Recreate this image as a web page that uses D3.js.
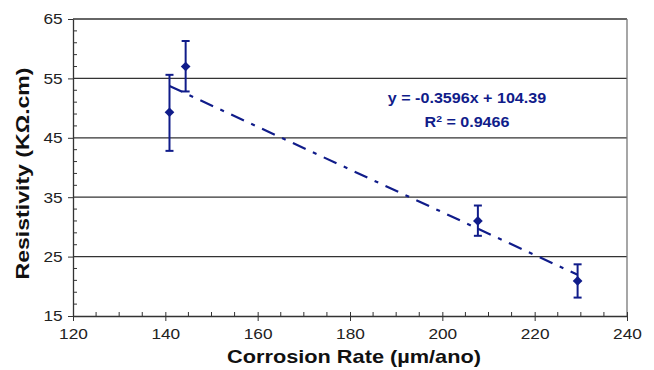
<!DOCTYPE html>
<html>
<head>
<meta charset="utf-8">
<script src="https://cdn.jsdelivr.net/npm/d3@7"></script>
<style>
  body { margin: 0; background: #fff; }
  text { font-family: "Liberation Sans", Arial, sans-serif; }
</style>
</head>
<body>
<div id="chart"></div>
<script>
// data
let rates = [140.9, 144.4, 207.7, 229.3];
let resist = [49.3, 57.0, 31.0, 20.9];
let errUp = [6.3, 4.3, 2.6, 2.8];
let errDown = [6.5, 4.2, 2.5, 2.8];
let xTicks = [120, 140, 160, 180, 200, 220, 240];
let yTicks = [15, 25, 35, 45, 55, 65];
let slope = -0.3596, intercept = 104.39;
let eqLines = ["y = -0.3596x + 104.39", "R"];

let margin = {top: 19, right: 27, bottom: 54, left: 73},
    width = 654 - margin.left - margin.right,
    height = 370 - margin.top - margin.bottom;

let navy = "#101c8a";
let stretch = "scale(1.15,1)"; // the source picture is a bit wider than tall

let svg = d3.select("#chart")
    .append("svg")
    .attr("width", 654)
    .attr("height", 370)
    .append("g")
    .attr("transform", "translate(" + margin.left + "," + margin.top + ")");

let x = d3.scaleLinear().domain([120, 240]).range([0, width]);
let y = d3.scaleLinear().domain([15, 65]).range([height, 0]);

// horizontal grid lines
svg.selectAll(".grid")
    .data(yTicks.slice(1))
    .enter()
    .append("line")
    .attr("x1", 0).attr("x2", width)
    .attr("y1", d => y(d)).attr("y2", d => y(d))
    .attr("stroke", "#333")
    .attr("stroke-width", 1.3);

// right border
svg.append("line")
    .attr("x1", width).attr("x2", width)
    .attr("y1", 0).attr("y2", height)
    .attr("stroke", "#777").attr("stroke-width", 1.3);

// minor ticks (inside)
let xMinor = d3.range(125, 240, 5).filter(d => d % 20 != 0);
svg.selectAll(".xminor")
    .data(xMinor)
    .enter()
    .append("line")
    .attr("x1", d => x(d)).attr("x2", d => x(d))
    .attr("y1", height).attr("y2", height - 4)
    .attr("stroke", "#333");

let yMinor = d3.range(17, 65, 2).filter(d => (d - 15) % 10 != 0);
svg.selectAll(".yminor")
    .data(yMinor)
    .enter()
    .append("line")
    .attr("x1", 0).attr("x2", 4)
    .attr("y1", d => y(d)).attr("y2", d => y(d))
    .attr("stroke", "#333");

// axes
let xAxis = svg.append("g")
    .attr("transform", "translate(0," + height + ")")
    .call(d3.axisBottom(x).tickValues(xTicks).tickSize(5).tickSizeOuter(0).tickPadding(7));
xAxis.selectAll(".tick line").attr("y1", -4);

let yAxis = svg.append("g")
    .call(d3.axisLeft(y).tickValues(yTicks).tickSize(5).tickSizeOuter(0).tickPadding(4));

svg.selectAll(".domain").attr("stroke", "#333").attr("stroke-width", 1.3);
svg.selectAll(".tick line").attr("stroke", "#333");
svg.selectAll(".tick text")
    .attr("font-size", "15px")
    .attr("fill", "#222")
    .attr("transform", stretch)
    .style("font-family", "'Liberation Sans', Arial, sans-serif");

// trend line
let x0 = d3.min(rates), x1 = d3.max(rates);
svg.append("line")
    .attr("x1", x(x0)).attr("y1", y(slope * x0 + intercept))
    .attr("x2", x(x1)).attr("y2", y(slope * x1 + intercept))
    .attr("stroke", navy)
    .attr("stroke-width", 2.2)
    .attr("stroke-dasharray", "14,8,4,8");

// error bars
let pts = rates.map((r, i) => ({x: r, y: resist[i], hi: resist[i] + errUp[i], lo: resist[i] - errDown[i]}));

svg.selectAll(".err")
    .data(pts)
    .enter()
    .append("line")
    .attr("x1", d => x(d.x)).attr("x2", d => x(d.x))
    .attr("y1", d => y(d.hi)).attr("y2", d => y(d.lo))
    .attr("stroke", navy).attr("stroke-width", 2);

["hi", "lo"].forEach(function(k) {
    svg.selectAll(".cap" + k)
        .data(pts)
        .enter()
        .append("line")
        .attr("x1", d => x(d.x) - 4).attr("x2", d => x(d.x) + 4)
        .attr("y1", d => y(d[k])).attr("y2", d => y(d[k]))
        .attr("stroke", navy).attr("stroke-width", 2);
});

// diamond markers
svg.selectAll(".pt")
    .data(pts)
    .enter()
    .append("path")
    .attr("d", d3.symbol().type(d3.symbolDiamond2).size(60))
    .attr("transform", d => "translate(" + x(d.x) + "," + y(d.y) + ")")
    .attr("fill", navy);

// equation
let eq = svg.append("g")
    .attr("transform", "translate(394,0)" + stretch);

eq.append("text")
    .attr("y", 84)
    .attr("text-anchor", "middle")
    .attr("font-size", "14px")
    .attr("font-weight", "bold")
    .attr("fill", navy)
    .text(eqLines[0]);

let r2 = eq.append("text")
    .attr("y", 108)
    .attr("text-anchor", "middle")
    .attr("font-size", "14px")
    .attr("font-weight", "bold")
    .attr("fill", navy);
r2.append("tspan").text(eqLines[1]);
r2.append("tspan").attr("dy", -5).attr("font-size", "9px").text("2");
r2.append("tspan").attr("dy", 5).text(" = 0.9466");

// axis titles
svg.append("text")
    .attr("x", width / 2 + 4)
    .attr("y", height + 47)
    .attr("text-anchor", "middle")
    .attr("font-size", "19px")
    .attr("font-weight", "bold")
    .attr("fill", "#111")
    .attr("textLength", 254)
    .attr("lengthAdjust", "spacingAndGlyphs")
    .text("Corrosion Rate (µm/ano)");

svg.append("text")
    .attr("transform", "translate(" + (-44) + "," + y(39) + ")rotate(-90)")
    .attr("text-anchor", "middle")
    .attr("font-size", "19px")
    .attr("font-weight", "bold")
    .attr("fill", "#111")
    .attr("textLength", 212)
    .attr("lengthAdjust", "spacingAndGlyphs")
    .text("Resistivity (KΩ.cm)");
</script>
</body>
</html>
